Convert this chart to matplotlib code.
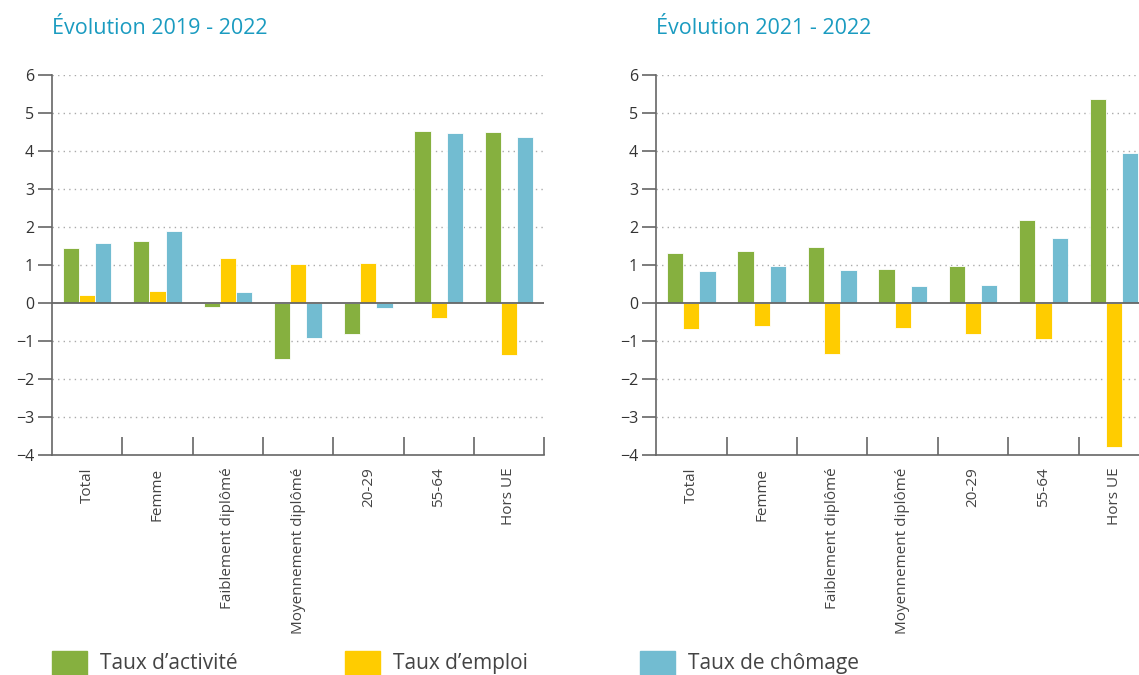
import numpy as np
import matplotlib
matplotlib.use('Agg')
import matplotlib.pyplot as plt
from matplotlib.patches import Rectangle

plt.rcParams['font.family'] = ['Open Sans', 'DejaVu Sans']

categories = ['Total', 'Femme', 'Faiblement diplômé', 'Moyennement diplômé', '20-29', '55-64', 'Hors UE']
series_names = ['Taux d\u2019activité', 'Taux d\u2019emploi', 'Taux de chômage']
colors = ['#86b03f', '#ffcc00', '#72bcd1']

# Évolution 2019 - 2022
activite_1922 = [1.45, 1.63, -0.10, -1.48, -0.82, 4.53, 4.50]
emploi_1922 = [0.20, 0.32, 1.18, 1.02, 1.05, -0.40, -1.38]
chomage_1922 = [1.58, 1.90, 0.30, -0.93, -0.12, 4.48, 4.37]

# Évolution 2021 - 2022
activite_2122 = [1.32, 1.37, 1.48, 0.89, 0.96, 2.18, 5.37]
emploi_2122 = [-0.68, -0.60, -1.34, -0.65, -0.82, -0.96, -3.78]
chomage_2122 = [0.84, 0.96, 0.86, 0.44, 0.46, 1.70, 3.94]

titles = ['Évolution 2019 - 2022', 'Évolution 2021 - 2022']
yticks = list(range(-4, 7))

fig = plt.figure(figsize=(11.39, 6.75), dpi=100)
ax1 = fig.add_axes([0.0457, 0.326, 0.432, 0.563])
ax2 = fig.add_axes([0.576, 0.326, 0.433, 0.563])

panels = [(ax1, [activite_1922, emploi_1922, chomage_1922]),
          (ax2, [activite_2122, emploi_2122, chomage_2122])]

x = np.arange(len(categories))
w = 0.23
for i, (ax, data) in enumerate(panels):
    for j, vals in enumerate(data):
        ax.bar(x + (j - 1) * w, vals, width=w, color=colors[j],
               edgecolor='white', linewidth=0.6, zorder=3)
    ax.set_xlim(-0.5, len(categories) - 0.5)
    ax.set_ylim(-4, 6)
    ax.set_yticks(yticks)
    ax.set_yticklabels([str(t).replace('-', '\u2212') for t in yticks])
    for t in yticks:
        if t == 0:
            ax.axhline(0, color='#666666', lw=1.3, zorder=4)
        elif t != -4:
            ax.axhline(t, color='#aaaaaa', lw=1, ls=(0, (1, 3)), zorder=1)
    for s in ['top', 'right']:
        ax.spines[s].set_visible(False)
    for s in ['left', 'bottom']:
        ax.spines[s].set_color('#666666')
        ax.spines[s].set_linewidth(1.2)
    ax.tick_params(axis='y', length=10, width=1.2, color='#666666',
                   labelsize=11.5, labelcolor='#333333', pad=3)
    # category boundary ticks
    ax.set_xticks(np.arange(0.5, len(categories), 1.0))
    ax.set_xticklabels([])
    ax.tick_params(axis='x', which='major', direction='in', length=13,
                   width=1.2, color='#666666')
    ax.set_xticks(x, minor=True)
    ax.set_xticklabels(categories, minor=True, rotation=90, fontsize=11,
                       color='#444444', va='top')
    ax.tick_params(axis='x', which='minor', length=0, pad=9)
    ax.text(0, 1.095, titles[i], transform=ax.transAxes, fontsize=15.5,
            color='#1a9bc0', ha='left', va='bottom')

# legend
leg_x = [0.0457, 0.303, 0.562]
for k in range(3):
    fig.add_artist(Rectangle((leg_x[k], 0.0), 0.031, 0.036,
                             transform=fig.transFigure, color=colors[k]))
    fig.text(leg_x[k] + 0.042, 0.017, series_names[k], fontsize=15,
             color='#444444', va='center', ha='left')

fig.savefig('out.png', dpi=100)
